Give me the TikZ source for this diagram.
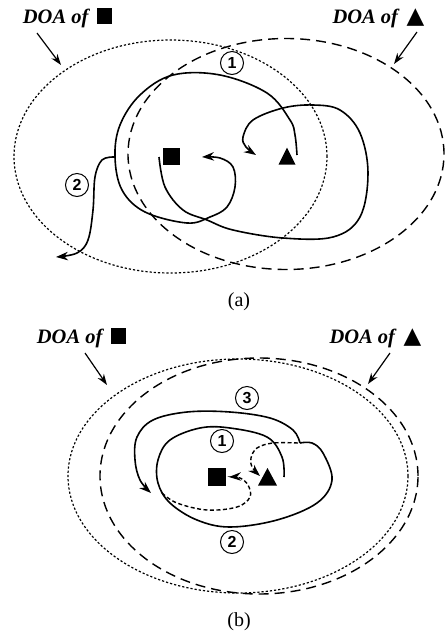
\documentclass[tikz,border=0pt]{standalone}
\usepackage{fontspec}
\setmainfont{Liberation Serif}
\newfontfamily\numfont{Liberation Sans}
\newfontfamily\symfont{DejaVu Sans}
\usetikzlibrary{arrows.meta}
\begin{document}
\begin{tikzpicture}[x=1pt,y=-1pt,
  lbl/.style={inner sep=0pt,font=\fontsize{20.5}{25}\selectfont\bfseries\itshape},
  captxt/.style={inner sep=0pt,font=\fontsize{20}{24}\selectfont},
  num/.style={draw,circle,line width=1pt,minimum size=23pt,inner sep=0pt,font=\numfont\fontsize{16}{18}\selectfont\bfseries},
  sqm/.style={fill=black,minimum size=17pt,inner sep=0pt},
  arrtip/.style={-{Stealth[length=12pt,width=8.5pt]}},
  pointer/.style={line width=1.2pt,-{Stealth[length=11pt,width=7.5pt]}},
  traj/.style={line width=1.6pt,arrtip},
  dtraj/.style={line width=1.4pt,dash pattern=on 4pt off 2.5pt,arrtip},
  doasq/.style={line width=1.2pt,dash pattern=on 2.2pt off 2pt},
  doatr/.style={line width=1.4pt,dash pattern=on 10pt off 6pt},
]
\useasboundingbox (0,0) rectangle (445,633);
\newcommand{\sqsym}{\rule{15pt}{15.5pt}}
\newcommand{\trsym}{{\symfont\fontsize{23}{25}\selectfont ▲}}

% ---------------- panel (a) ----------------
\node[lbl] (la) at (67.5,18) {DOA of\/\hspace{7pt}\sqsym};
\node[lbl] (ra) at (378.5,18) {DOA of\/\hspace{7pt}\trsym};
\coordinate (la0) at (37,33);  \coordinate (la1) at (61,65);
\coordinate (ra0) at (417,32); \coordinate (ra1) at (394,64);
\draw[pointer] (la0) -- (la1);
\draw[pointer] (ra0) -- (ra1);

\draw[doasq] (170.5,156.5) ellipse [x radius=156.5pt, y radius=116.5pt];
\draw[doatr] (286,154) ellipse [x radius=158pt, y radius=115.5pt];

\node[sqm] (sa) at (171,156) {};
\coordinate (ta) at (287,156);
\fill ([shift={(-8.5,8.5)}]ta) -- ([shift={(8.5,8.5)}]ta) -- ([shift={(0,-8.5)}]ta) -- cycle;

\node[num] (n1a) at (232,63) {1};
\node[num] (n2a) at (77,185) {2};

% trajectory from triangle around, back to square
\draw[traj] plot[smooth,tension=0.6] coordinates {(297,155) (295,135) (290,120) (267,93) (220,75) (173,75) (140,95) (120,125) (115,157) (122,190) (145,212) (187,223) (210,217) (227,207) (235,187) (233,167) (220,158) (202,157)};
% trajectory from square around, back to triangle
\draw[traj] plot[smooth,tension=0.6] coordinates {(159,157) (165,187) (183,210) (207,220) (233,230) (283,238) (333,237) (360,217) (368,173) (360,133) (340,110) (313,105) (283,108) (253,120) (243,137) (246,147) (256,155)};
% branch 2
\draw[traj] plot[smooth,tension=0.6] coordinates {(114,157) (102,160) (95,177) (93,210) (88,240) (77,253) (56,257)};

\node[captxt] (ca) at (239,302) {(a)};

% ---------------- panel (b) ----------------
\node[lbl] (lb) at (81.5,338) {DOA of\/\hspace{7pt}\sqsym};
\node[lbl] (rb) at (375.5,338) {DOA of\/\hspace{7pt}\trsym};
\coordinate (lb0) at (85,353);  \coordinate (lb1) at (107,385);
\coordinate (rb0) at (390,353); \coordinate (rb1) at (368,384);
\draw[pointer] (lb0) -- (lb1);
\draw[pointer] (rb0) -- (rb1);

\draw[doasq] (238,476) ellipse [x radius=170pt, y radius=117pt];
\draw[doatr] (259,476) ellipse [x radius=159pt, y radius=118pt];

\node[sqm,minimum size=18pt] (sb) at (217,477) {};
\coordinate (tb) at (267.5,477);
\fill ([shift={(-9.5,8.5)}]tb) -- ([shift={(9.5,8.5)}]tb) -- ([shift={(0,-9)}]tb) -- cycle;

\node[num] (n3b) at (247,398) {3};
\node[num] (n1b) at (222,441) {1};
\node[num] (n2b) at (232,542) {2};

% inner loop (1,2) then outer (3)
\draw[line width=1.6pt] plot[smooth,tension=0.6] coordinates {(284,477) (282,457) (267,437) (230,428) (200,428) (170,440) (158,460) (158,483) (170,503) (197,520) (230,527) (277,520) (317,503) (332,480) (323,453) (312,443) (300,443)};
\draw[traj] plot[smooth,tension=0.6] coordinates {(300,443) (293,430) (270,418) (230,412) (187,412) (153,420) (137,437) (135,460) (140,480) (151,493)};
% dashed final segments
\draw[dtraj] plot[smooth,tension=0.6] coordinates {(298,443) (273,443) (257,448) (251,458) (252,467) (260,476)};
\draw[dtraj] plot[smooth,tension=0.6] coordinates {(162,493) (177,503) (207,510) (237,507) (250,497) (248,485) (240,478) (229,477)};

\node[captxt] (cb) at (239,622) {(b)};
\end{tikzpicture}
\end{document}
